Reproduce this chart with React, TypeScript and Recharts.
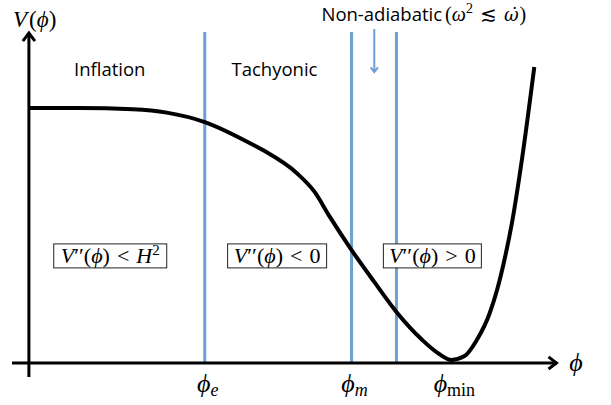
import React from 'react';
import { ComposedChart, Line, XAxis, YAxis, ReferenceLine, ReferenceDot } from 'recharts';

// potential V(phi)
const phiValues = [0, 0.96, 1.97, 2.61, 3.33, 4.18, 4.43, 5.07, 5.41, 5.69, 6.11, 6.54, 6.96, 7.45, 7.77, 8.0, 8.25, 8.47, 8.72, 8.87, 9.0, 9.15, 9.34, 9.57];
const potentialValues = [1.0, 1.0, 0.995, 0.982, 0.945, 0.863, 0.835, 0.745, 0.671, 0.576, 0.443, 0.318, 0.2, 0.09, 0.035, 0.012, 0.027, 0.086, 0.192, 0.29, 0.4, 0.553, 0.804, 1.161];

// marked field values on the phi axis
const tickValues = [3.33, 6.11, 8.0];
const tickSubscripts = ['e', 'm', 'min'];
const boundaryValues = [3.33, 6.11, 6.96];
const nonAdiabaticPhi = 6.54;

const data = phiValues.map((p, i) => ({ phi: p, V: potentialValues[i] }));

const SERIF = '"Liberation Serif", "DejaVu Serif", serif';
const SANS = '"Open Sans", "Noto Sans", sans-serif';
const BLUE = '#6c9fd3';

const arrowShape = (color: string, width: number, size: number) => (p: any) => {
    const { x1, y1, x2, y2 } = p;
    const a = Math.atan2(y2 - y1, x2 - x1);
    const s = 0.65;
    const ax = x2 - size * Math.cos(a - s);
    const ay = y2 - size * Math.sin(a - s);
    const bx = x2 - size * Math.cos(a + s);
    const by = y2 - size * Math.sin(a + s);
    return (
        <g>
            <line x1={x1} y1={y1} x2={x2} y2={y2} stroke={color} strokeWidth={width} />
            <polyline points={`${ax},${ay} ${x2},${y2} ${bx},${by}`} fill="none" stroke={color} strokeWidth={width} strokeLinejoin="miter" />
        </g>
    );
};

const PhiTick = (props: any) => {
    const { x, y, payload } = props;
    const idx = tickValues.indexOf(payload.value);
    const sub = tickSubscripts[idx] ?? '';
    return (
        <text x={x + 3} y={y + 15} textAnchor="middle" fontFamily={SERIF} fontSize={26} fill="#000">
            <tspan fontStyle="italic">ϕ</tspan>
            <tspan fontSize={18} dy={4} fontStyle={sub === 'min' ? 'normal' : 'italic'}>{sub}</tspan>
        </text>
    );
};

const boxShape = (w: number, content: React.ReactNode) => (p: any) => {
    const { cx, cy } = p;
    return (
        <g>
            <rect x={cx - w / 2} y={cy - 12} width={w} height={24} fill="#fff" stroke="#222" strokeWidth={1} />
            <text x={cx} y={cy + 7} textAnchor="middle" fontFamily={SERIF} fontSize={22} fill="#000">{content}</text>
        </g>
    );
};

const wordShape = (txt: string) => (p: any) => (
    <text x={p.cx} y={p.cy + 6} textAnchor="middle" fontFamily={SANS} fontSize={18.5} fill="#000">{txt}</text>
);

const vLabel = (p: any) => (
    <text x={p.cx} y={p.cy + 7} textAnchor="middle" fontFamily={SERIF} fontSize={23} fill="#000">
        <tspan fontStyle="italic">V</tspan>
        <tspan dx={2}>(</tspan>
        <tspan fontStyle="italic">ϕ</tspan>
        <tspan>)</tspan>
    </text>
);

const phiAxisLabel = (p: any) => (
    <text x={p.cx} y={p.cy + 8} textAnchor="middle" fontFamily={SERIF} fontSize={26} fontStyle="italic" fill="#000">ϕ</text>
);

const nonAdiabaticLabel = (p: any) => (
    <text x={p.cx} y={p.cy + 6} textAnchor="start" fill="#000">
        <tspan fontFamily={SANS} fontSize={18.5}>Non-adiabatic</tspan>
        <tspan fontFamily={SERIF} fontSize={20} dx={3}>(</tspan>
        <tspan fontFamily={SERIF} fontSize={20} fontStyle="italic">ω</tspan>
        <tspan fontFamily={SERIF} fontSize={14} dy={-8}>2</tspan>
        <tspan fontFamily={SERIF} fontSize={20} dy={8} dx={7}>≲</tspan>
        <tspan fontFamily={'"DejaVu Serif", serif'} fontSize={18} fontStyle="italic" dx={7}>{'ω\u0307'}</tspan>
        <tspan fontFamily={SERIF} fontSize={20} dx={1}>)</tspan>
    </text>
);

const primes = '\u2032\u2032';

const App: React.FC = () => {
    return (
        <div style={{ position: 'absolute', left: 0, top: 0, width: 611, height: 405, background: '#fff' }}>
            <ComposedChart width={611} height={405} data={data} margin={{ top: 29, right: 54, bottom: 0, left: 12 }}>
                <XAxis
                    dataKey="phi"
                    type="number"
                    domain={[-0.32, 10]}
                    allowDataOverflow
                    ticks={tickValues}
                    interval={0}
                    axisLine={false}
                    tickLine={false}
                    tickSize={0}
                    tickMargin={0}
                    height={28}
                    tick={<PhiTick />}
                />
                <YAxis type="number" domain={[-0.055, 1.31]} allowDataOverflow hide />

                {boundaryValues.map((b) => (
                    <ReferenceLine key={b} segment={[{ x: b, y: 0 }, { x: b, y: 1.298 }]} stroke={BLUE} strokeWidth={3} ifOverflow="visible" />
                ))}

                <ReferenceLine
                    segment={[{ x: nonAdiabaticPhi, y: 1.31 }, { x: nonAdiabaticPhi, y: 1.141 }]}
                    ifOverflow="visible"
                    shape={arrowShape(BLUE, 2, 6)}
                />

                <ReferenceLine segment={[{ x: 0, y: -0.055 }, { x: 0, y: 1.294 }]} ifOverflow="visible" shape={arrowShape('#000', 3, 10)} />
                <ReferenceLine segment={[{ x: -0.32, y: 0 }, { x: 9.99, y: 0 }]} ifOverflow="visible" shape={arrowShape('#000', 3, 10)} />

                <Line type="monotone" dataKey="V" stroke="#000" strokeWidth={4} dot={false} isAnimationActive={false} />

                <ReferenceDot x={1.53} y={1.149} ifOverflow="visible" shape={wordShape('Inflation')} />
                <ReferenceDot x={4.65} y={1.149} ifOverflow="visible" shape={wordShape('Tachyonic')} />
                <ReferenceDot x={5.54} y={1.365} ifOverflow="visible" shape={nonAdiabaticLabel} />
                <ReferenceDot x={0.11} y={1.345} ifOverflow="visible" shape={vLabel} />
                <ReferenceDot x={10.36} y={0} ifOverflow="visible" shape={phiAxisLabel} />

                <ReferenceDot
                    x={1.54}
                    y={0.42}
                    ifOverflow="visible"
                    shape={boxShape(113, <>
                        <tspan fontStyle="italic">V</tspan>{primes}(<tspan fontStyle="italic">ϕ</tspan>)<tspan dx={7}>&lt;</tspan><tspan dx={7} fontStyle="italic">H</tspan><tspan fontSize={15} dy={-8}>2</tspan>
                    </>)}
                />
                <ReferenceDot
                    x={4.7}
                    y={0.42}
                    ifOverflow="visible"
                    shape={boxShape(99, <>
                        <tspan fontStyle="italic">V</tspan>{primes}(<tspan fontStyle="italic">ϕ</tspan>)<tspan dx={7}>&lt;</tspan><tspan dx={7}>0</tspan>
                    </>)}
                />
                <ReferenceDot
                    x={7.64}
                    y={0.42}
                    ifOverflow="visible"
                    shape={boxShape(98, <>
                        <tspan fontStyle="italic">V</tspan>{primes}(<tspan fontStyle="italic">ϕ</tspan>)<tspan dx={7}>&gt;</tspan><tspan dx={7}>0</tspan>
                    </>)}
                />
            </ComposedChart>
        </div>
    );
};

export default App;
